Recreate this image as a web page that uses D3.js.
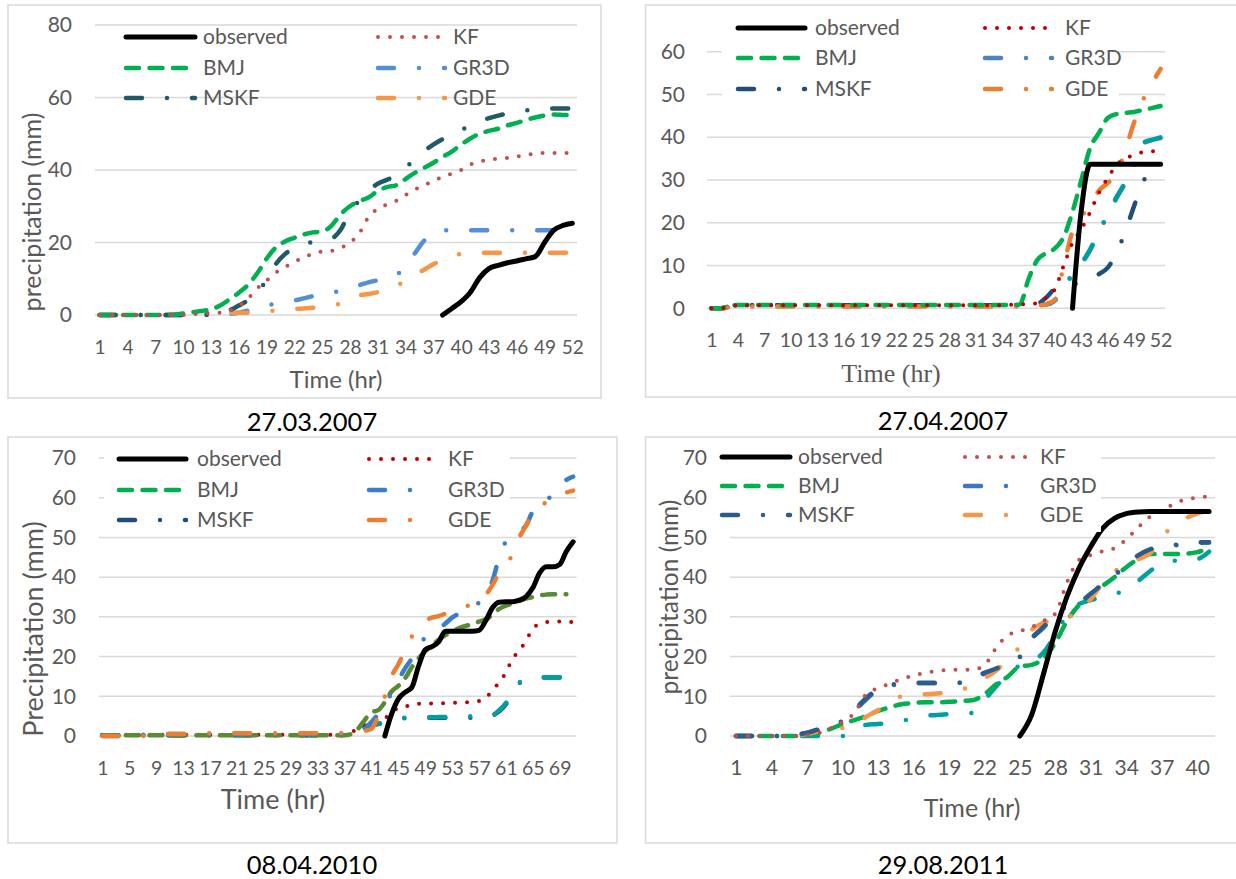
<!DOCTYPE html>
<html>
<head>
<meta charset="utf-8">
<script src="https://cdn.jsdelivr.net/npm/d3@7"></script>
<style>
  body { margin: 0; background: #fff; }
</style>
</head>
<body>
<svg id="chart" width="1236" height="879"></svg>
<script>
// ---- data: cumulative precipitation (mm) per hour ----
const SERIES_NAMES = ["observed", "KF", "BMJ", "GR3D", "MSKF", "GDE"];

// 27.03.2007 (52 h)
const P1_XTICKS = [1, 4, 7, 10, 13, 16, 19, 22, 25, 28, 31, 34, 37, 40, 43, 46, 49, 52];
const P1_YTICKS = [0, 20, 40, 60, 80];
const P1_OBSERVED = [
  null, null, null, null, null, null, null, null, null, null,
  null, null, null, null, null, null, null, null, null, null,
  null, null, null, null, null, null, null, null, null, null,
  null, null, null, null, null, null, null, 0, 1.8, 3.7,
  6.3, 10.3, 12.8, 13.7, 14.4, 14.9, 15.5, 16.1, 20.0, 23.4,
  24.7, 25.3
];
const P1_KF = [
  0, 0, 0, 0, 0, 0, 0, 0, 0, 0,
  0.2, 0.4, 0.5, 0.6, 1.2, 2.5, 4.5, 7.3, 9.5, 11.7,
  13.2, 14.7, 15.8, 16.9, 17.5, 17.7, 18.5, 20.0, 22.5, 27.0,
  29.3, 30.5, 31.5, 33.1, 34.6, 35.8, 36.9, 38.1, 39.0, 40.0,
  41.5, 42.3, 42.9, 43.1, 43.3, 43.7, 44.2, 44.5, 44.7, 44.7,
  44.7, 44.7
];
const P1_BMJ = [
  0, 0, 0, 0, 0, 0, 0, 0, 0.1, 0.4,
  0.8, 1.1, 1.6, 2.6, 4.3, 6.1, 8.3, 11.5, 15.5, 18.6,
  20.3, 21.3, 22.2, 22.8, 23.0, 24.6, 27.8, 30.0, 31.4, 32.4,
  34.2, 35.3, 35.8, 37.5, 39.2, 40.6, 42.0, 43.6, 45.1, 47.0,
  48.7, 50.0, 50.8, 51.4, 52.3, 53.0, 53.8, 54.5, 55.0, 55.3,
  55.2, 55.1
];
const P1_GR3D = [
  0, 0, 0, 0, 0, 0, 0, 0, 0, 0,
  0, 0, 0, 0, 0.3, 0.6, 1.2, 1.9, 2.6, 3.1,
  3.6, 4.0, 4.6, 5.2, 5.6, 6.1, 6.7, 7.5, 8.2, 9.0,
  9.6, 10.2, 11.0, 13.5, 17.0, 20.5, 22.5, 23.3, 23.4, 23.4,
  23.4, 23.4, 23.4, 23.4, 23.4, 23.4, 23.4, 23.4, 23.4, 23.4,
  23.4, 23.4
];
const P1_MSKF = [
  0, 0, 0, 0, 0, 0, 0, 0, 0, 0,
  0, 0, 0.2, 0.6, 1.3, 2.6, 4.1, 6.5, 9.5, 14.0,
  16.8, 18.5, 19.5, 20.2, 20.7, 21.1, 23.5, 28.5, 31.5, 34.3,
  36.2, 37.3, 38.5, 40.6, 43.0, 45.2, 47.0, 48.5, 49.8, 51.0,
  52.4, 53.5, 54.3, 55.0, 55.6, 56.1, 56.4, 56.8, 57.0, 57.0,
  57.0, 57.0
];
const P1_GDE = [
  0, 0, 0, 0, 0, 0, 0, 0, 0.1, 0.3,
  0.5, 0.5, 0.6, 0.6, 0.6, 0.6, 0.6, 0.6, 1.0, 1.3,
  1.5, 1.7, 1.8, 2.0, 2.2, 2.6, 3.2, 4.5, 5.4, 5.8,
  6.3, 7.0, 8.0, 9.5, 11.0, 12.5, 14.0, 15.2, 16.2, 16.9,
  17.2, 17.2, 17.2, 17.2, 17.2, 17.2, 17.2, 17.2, 17.2, 17.2,
  17.2, 17.2
];

// 27.04.2007 (52 h)
const P2_XTICKS = [1, 4, 7, 10, 13, 16, 19, 22, 25, 28, 31, 34, 37, 40, 43, 46, 49, 52];
const P2_YTICKS = [0, 10, 20, 30, 40, 50, 60];
const P2_OBSERVED = [
  null, null, null, null, null, null, null, null, null, null,
  null, null, null, null, null, null, null, null, null, null,
  null, null, null, null, null, null, null, null, null, null,
  null, null, null, null, null, null, null, null, null, null,
  null, 0, 23.0, 33.7, 33.7, 33.7, 33.7, 33.7, 33.7, 33.7,
  33.7, 33.7
];
const P2_KF = [
  0, 0, 0.3, 0.7, 0.7, 0.7, 0.7, 0.7, 0.7, 0.7,
  0.7, 0.7, 0.7, 0.7, 0.7, 0.7, 0.7, 0.7, 0.7, 0.7,
  0.7, 0.7, 0.7, 0.7, 0.7, 0.7, 0.7, 0.7, 0.7, 0.7,
  0.7, 0.7, 0.7, 0.7, 0.8, 0.9, 1.0, 1.2, 2.5, 4.5,
  10.0, 15.3, 18.5, 22.5, 27.0, 30.5, 33.5, 35.0, 35.9, 36.5,
  36.7, 36.8
];
const P2_BMJ = [
  0, 0, 0.4, 0.8, 0.8, 0.8, 0.8, 0.8, 0.8, 0.8,
  0.8, 0.8, 0.8, 0.8, 0.8, 0.8, 0.8, 0.8, 0.8, 0.8,
  0.8, 0.8, 0.8, 0.8, 0.8, 0.8, 0.8, 0.8, 0.8, 0.8,
  0.8, 0.8, 0.8, 0.8, 0.8, 0.9, 6.8, 11.3, 12.9, 14.0,
  16.7, 22.6, 30.0, 37.5, 41.0, 44.5, 45.4, 45.7, 45.9, 46.4,
  46.8, 47.3
];
const P2_GR3D = [
  0, 0, 0.4, 0.7, 0.7, 0.7, 0.7, 0.7, 0.7, 0.7,
  0.7, 0.7, 0.7, 0.7, 0.7, 0.7, 0.7, 0.7, 0.7, 0.7,
  0.7, 0.7, 0.7, 0.7, 0.7, 0.7, 0.7, 0.7, 0.7, 0.7,
  0.7, 0.7, 0.7, 0.7, 0.7, 0.7, 0.7, 0.8, 0.9, 1.8,
  4.8, 7.8, 10.3, 13.6, 17.8, 21.8, 25.8, 29.3, 33.3, 38.5,
  39.3, 39.8
];
const P2_MSKF = [
  0, 0, 0.3, 0.7, 0.7, 0.7, 0.7, 0.7, 0.7, 0.7,
  0.7, 0.7, 0.7, 0.7, 0.7, 0.7, 0.7, 0.7, 0.7, 0.7,
  0.7, 0.7, 0.7, 0.7, 0.7, 0.7, 0.7, 0.7, 0.7, 0.7,
  0.7, 0.7, 0.7, 0.7, 0.7, 0.7, 0.7, 1.0, 2.5, 4.5,
  5.0, 5.5, 6.3, 7.2, 8.0, 9.5, 13.0, 18.0, 24.0, 29.5,
  32.5, 33.7
];
const P2_GDE = [
  0, 0, 0.2, 0.4, 0.4, 0.4, 0.4, 0.4, 0.4, 0.4,
  0.4, 0.4, 0.4, 0.4, 0.4, 0.4, 0.4, 0.4, 0.4, 0.4,
  0.4, 0.4, 0.4, 0.4, 0.4, 0.4, 0.4, 0.4, 0.4, 0.4,
  0.4, 0.4, 0.4, 0.4, 0.4, 0.4, 0.4, 0.6, 1.0, 2.0,
  10.0, 18.0, 21.5, 24.0, 27.5, 29.3, 31.5, 37.0, 43.5, 48.7,
  52.5, 56.0
];
const P2_EXTRA = [
  0, 0, 0.4, 0.7, 0.7, 0.7, 0.7, 0.7, 0.7, 0.7,
  0.7, 0.7, 0.7, 0.7, 0.7, 0.7, 0.7, 0.7, 0.7, 0.7,
  0.7, 0.7, 0.7, 0.7, 0.7, 0.7, 0.7, 0.7, 0.7, 0.7,
  0.7, 0.7, 0.7, 0.7, 0.7, 0.7, 0.7, 0.8, 0.9, 2.0,
  5.0, 8.0, 10.5, 13.8, 18.0, 22.0, 26.0, 29.5, 33.5, 38.7,
  39.4, 40.0
];

// 08.04.2010 (71 h)
const P3_XTICKS = [1, 5, 9, 13, 17, 21, 25, 29, 33, 37, 41, 45, 49, 53, 57, 61, 65, 69];
const P3_YTICKS = [0, 10, 20, 30, 40, 50, 60, 70];
const P3_OBSERVED = [
  null, null, null, null, null, null, null, null, null, null,
  null, null, null, null, null, null, null, null, null, null,
  null, null, null, null, null, null, null, null, null, null,
  null, null, null, null, null, null, null, null, null, null,
  null, null, 0, 5.5, 9.3, 11.0, 12.2, 17.5, 21.7, 22.5,
  23.7, 26.4, 26.4, 26.4, 26.4, 26.4, 26.6, 29.0, 32.3, 33.7,
  33.8, 33.8, 34.2, 35.1, 37.3, 41.0, 42.6, 42.6, 43.2, 46.5,
  48.9
];
const P3_KF = [
  0.3, 0.3, 0.3, 0.3, 0.3, 0.3, 0.3, 0.3, 0.3, 0.3,
  0.3, 0.3, 0.3, 0.3, 0.3, 0.3, 0.3, 0.3, 0.3, 0.3,
  0.3, 0.3, 0.3, 0.3, 0.3, 0.3, 0.3, 0.3, 0.3, 0.3,
  0.3, 0.3, 0.3, 0.3, 0.3, 0.3, 0.5, 1.0, 1.8, 2.7,
  3.2, 3.6, 4.4, 6.0, 7.0, 7.4, 7.9, 8.1, 8.1, 8.2,
  8.2, 8.3, 8.4, 8.4, 8.5, 8.6, 8.8, 9.6, 11.5, 13.5,
  16.0, 19.5, 21.5, 24.0, 27.0, 28.3, 28.7, 28.8, 28.8, 28.7,
  28.7
];
const P3_BMJ = [
  0.2, 0.2, 0.2, 0.2, 0.2, 0.2, 0.2, 0.2, 0.2, 0.2,
  0.2, 0.2, 0.2, 0.2, 0.2, 0.2, 0.2, 0.2, 0.2, 0.2,
  0.2, 0.2, 0.2, 0.2, 0.2, 0.2, 0.2, 0.2, 0.2, 0.2,
  0.2, 0.2, 0.2, 0.2, 0.2, 0.2, 0.2, 0.5, 1.8, 4.0,
  6.0, 6.5, 8.5, 11.2, 12.6, 14.5, 17.3, 19.5, 21.3, 22.8,
  24.2, 25.4, 26.3, 27.1, 27.7, 28.2, 28.8, 29.4, 30.5, 32.0,
  32.8, 33.4, 34.0, 34.6, 35.0, 35.4, 35.6, 35.7, 35.7, 35.7,
  null
];
const P3_GR3D = [
  0, 0, 0, 0, 0, 0, 0.3, 0.5, 0.5, 0.5,
  0.5, 0.5, 0.5, 0.5, 0.5, 0.5, 0.5, 0.5, 0.5, 0.5,
  0.5, 0.5, 0.5, 0.5, 0.5, 0.5, 0.5, 0.5, 0.5, 0.5,
  0.5, 0.5, 0.5, 0.5, 0.5, 0.5, 0.5, 0.6, 0.9, 1.8,
  3.5, 5.5, 8.0, 10.8, 14.0, 17.0, 19.5, 22.5, 24.8, 26.0,
  27.0, 28.3, 29.8, 30.8, 31.8, 32.6, 33.6, 35.5, 39.0, 45.0,
  49.0, 50.5, 51.5, 53.0, 56.5, 57.8, 58.8, 61.5, 63.0, 64.5,
  65.3
];
const P3_MSKF = [
  0.2, 0.2, 0.2, 0.2, 0.2, 0.2, 0.2, 0.2, 0.2, 0.2,
  0.2, 0.2, 0.2, 0.2, 0.2, 0.2, 0.2, 0.2, 0.2, 0.2,
  0.2, 0.2, 0.2, 0.2, 0.2, 0.2, 0.2, 0.2, 0.2, 0.2,
  0.2, 0.2, 0.2, 0.2, 0.2, 0.2, 0.2, 0.4, 1.3, 2.3,
  2.7, 3.0, 3.4, 3.8, 4.2, 4.5, 4.6, 4.6, 4.6, 4.6,
  4.6, 4.6, 4.6, 4.6, 4.6, 4.6, 4.6, 4.6, 5.1, 6.2,
  8.0, 11.2, 13.3, 14.3, 14.6, 14.7, 14.7, 14.7, 14.7, 14.7,
  null
];
const P3_GDE = [
  0, 0, 0, 0, 0, 0, 0, 0, 0.3, 0.5,
  0.5, 0.5, 0.5, 0.5, 0.5, 0.5, 0.7, 0.7, 0.7, 0.7,
  0.7, 0.7, 0.7, 0.7, 0.7, 0.7, 0.7, 0.7, 0.7, 0.7,
  0.7, 0.7, 0.7, 0.7, 0.7, 0.7, 0.8, 0.8, 1.0, 1.3,
  1.8, 5.0, 10.0, 15.0, 18.0, 21.5, 25.0, 27.5, 29.0, 29.8,
  30.2, 30.8, 31.3, 31.7, 32.5, 33.3, 34.0, 35.5, 38.0, 41.0,
  42.6, 46.0, 50.0, 53.0, 56.0, 57.9, 58.8, 59.5, 60.4, 61.3,
  61.8
];
const P3_EXTRA = [
  0.2, 0.2, 0.2, 0.2, 0.2, 0.2, 0.2, 0.2, 0.2, 0.2,
  0.2, 0.2, 0.2, 0.2, 0.2, 0.2, 0.2, 0.2, 0.2, 0.2,
  0.2, 0.2, 0.2, 0.2, 0.2, 0.2, 0.2, 0.2, 0.2, 0.2,
  0.2, 0.2, 0.2, 0.2, 0.2, 0.2, 0.2, 0.5, 1.5, 2.5,
  2.8, 3.1, 3.5, 3.9, 4.3, 4.6, 4.7, 4.7, 4.7, 4.7,
  4.8, 4.8, 4.8, 4.9, 4.9, 5.0, 5.1, 5.2, 5.3, 6.5,
  8.3, 11.5, 13.5, 14.5, 14.8, 14.8, 14.8, 14.8, 14.8, 14.8,
  null
];

// 29.08.2011 (41 h)
const P4_XTICKS = [1, 4, 7, 10, 13, 16, 19, 22, 25, 28, 31, 34, 37, 40];
const P4_YTICKS = [0, 10, 20, 30, 40, 50, 60, 70];
const P4_OBSERVED = [
  null, null, null, null, null, null, null, null, null, null,
  null, null, null, null, null, null, null, null, null, null,
  null, null, null, null, 0, 5.3, 15.6, 26.4, 35.2, 42.2,
  47.7, 52.3, 54.8, 56.0, 56.4, 56.5, 56.5, 56.5, 56.5, 56.5,
  56.5
];
const P4_KF = [
  0, 0, 0, 0, 0, 0, 0.2, 0.8, 1.9, 3.5,
  5.8, 10.5, 12.0, 13.2, 14.3, 15.2, 15.9, 16.4, 16.6, 16.7,
  16.7, 17.8, 22.2, 25.4, 26.4, 27.4, 29.0, 30.8, 38.8, 44.3,
  45.6, 46.5, 47.3, 49.5, 52.5, 55.2, 56.7, 58.4, 59.6, 60.0,
  60.4
];
const P4_BMJ = [
  0, 0, 0, 0, 0, 0, 0.2, 0.8, 1.8, 3.0,
  4.0, 5.0, 6.3, 7.2, 8.0, 8.3, 8.5, 8.5, 8.6, 8.8,
  9.0, 10.5, 13.0, 15.0, 17.5, 17.9, 19.5, 23.5, 29.0, 33.0,
  35.8, 37.8, 40.0, 42.5, 44.5, 45.8, 45.8, 45.8, 45.9, 46.3,
  47.3
];
const P4_GR3D = [
  0, 0, 0, 0, 0, 0.3, 0.8, 1.6, 2.5, 3.6,
  6.2, 9.2, 11.5, 12.6, 13.1, 13.3, 13.3, 13.3, 13.3, 13.4,
  14.4, 15.7, 16.8, 18.1, 19.8, 24.4, 27.3, 30.6, 32.6, 33.4,
  35.6, 38.1, 40.3, 43.1, 45.3, 46.8, 47.4, 47.9, 48.3, 48.6,
  48.7
];
const P4_MSKF = [
  0, 0, 0, 0, 0, 0.3, 0.8, 1.7, 2.6, 3.8,
  6.5, 9.5, 11.8, 12.8, 13.3, 13.4, 13.4, 13.4, 13.4, 13.4,
  14.5, 15.9, 17.0, 18.3, 20.0, 24.6, 27.5, 30.8, 32.8, 33.6,
  35.8, 38.3, 40.5, 43.3, 45.5, 47.0, 47.6, 48.1, 48.5, 48.8,
  48.8
];
const P4_GDE = [
  0, 0, 0, 0, 0, 0.2, 0.5, 1.2, 1.6, 2.0,
  2.8, 4.8, 6.5, 8.2, 10.0, 10.4, 10.5, 10.7, 11.0, 11.6,
  12.8, 14.5, 16.5, 19.5, 22.5, 26.7, 28.5, 29.3, 30.0, 31.0,
  34.5, 38.5, 41.5, 42.5, 44.5, 46.0, 50.0, 53.0, 54.8, 56.0,
  56.8
];
const P4_EXTRA = [
  0, 0, 0, 0, 0, 0, 0, 0, 0, 0,
  1.5, 2.8, 3.0, 3.3, 3.8, 4.5, 5.1, 5.3, 5.5, 5.6,
  5.8, 9.0, 12.5, 15.5, 17.8, 18.8, 21.0, 25.5, 30.5, 33.2,
  34.2, 35.0, 35.8, 36.7, 39.0, 41.5, 43.5, 44.1, 44.1, 44.5,
  46.4
];

// ---- styling ----
const FONT = "Lato, 'Open Sans', sans-serif";
const GREY = "#595959";
const GRID = "#d9d9d9";

const LINE_STYLES = {
  solid:   { w: 5,   dash: null },
  dot:     { w: 4,   dash: "0 12" },
  dash:    { w: 4.5, dash: "13 10.5" },
  dashdot: { w: 4.5, dash: "16 25 0 25" },
};
const KINDS = { observed: "solid", KF: "dot", BMJ: "dash", GR3D: "dashdot", MSKF: "dashdot", GDE: "dashdot", extra: "dashdot" };

const svg = d3.select("#chart");

function styleLine(sel, color, kind) {
  const st = LINE_STYLES[kind];
  sel.attr("fill", "none")
    .attr("stroke", color)
    .attr("stroke-width", st.w)
    .attr("stroke-linecap", "round")
    .attr("stroke-linejoin", "round")
    .attr("stroke-dasharray", st.dash);
}

function drawPanel(p) {
  const g = svg.append("g");
  const n = p.series[0].values.length;
  const cats = d3.range(1, n + 1);

  // chart frame
  g.append("rect")
    .attr("x", p.frame[0]).attr("y", p.frame[1])
    .attr("width", p.frame[2]).attr("height", p.frame[3])
    .attr("fill", "#fff").attr("stroke", GRID).attr("stroke-width", 1.5);

  const x = d3.scalePoint().domain(cats).range([p.x0, p.x1]).padding(0.5);
  const y = d3.scaleLinear().domain([0, p.yMax]).range([p.yBot, p.yTop]);

  // gridlines
  g.append("g")
    .selectAll("line")
    .data(p.yTicks)
    .join("line")
    .attr("x1", p.x0).attr("x2", p.x1)
    .attr("y1", (d) => y(d)).attr("y2", (d) => y(d))
    .attr("stroke", GRID).attr("stroke-width", 1.5);

  // y tick labels
  g.append("g")
    .attr("transform", `translate(${p.yLabelX},0)`)
    .call(d3.axisLeft(y).tickValues(p.yTicks).tickSize(0).tickPadding(0))
    .call((a) => a.select(".domain").remove())
    .selectAll("text")
    .attr("font-family", FONT).attr("font-size", 21).attr("fill", GREY);

  // x tick labels
  g.append("g")
    .attr("transform", `translate(0,${p.xLabelY})`)
    .call(d3.axisBottom(x).tickValues(p.xTicks).tickSize(0).tickPadding(0))
    .call((a) => a.select(".domain").remove())
    .selectAll("text")
    .attr("y", 0).attr("dy", "0.35em")
    .attr("font-family", FONT).attr("font-size", p.xFont).attr("fill", GREY);

  // series
  const line = d3.line()
    .defined((d) => d.v != null)
    .x((d) => x(d.c))
    .y((d) => y(d.v))
    .curve(d3.curveMonotoneX);

  p.series.forEach((s) => {
    const pts = cats.map((c, i) => ({ c, v: s.values[i] }));
    g.append("path").attr("d", line(pts)).call(styleLine, s.color, KINDS[s.name]);
  });

  // legend
  const lg = g.append("g");
  if (p.legendBg) {
    lg.append("rect")
      .attr("x", p.legendBg[0]).attr("y", p.legendBg[1])
      .attr("width", p.legendBg[2]).attr("height", p.legendBg[3])
      .attr("fill", "#fff");
  }
  SERIES_NAMES.forEach((name, i) => {
    const s = p.series.find((d) => d.name === name);
    const col = i % 2 === 0 ? p.legCol1 : p.legCol2;
    const ly = p.legRows[Math.floor(i / 2)];
    lg.append("line")
      .attr("x1", col[0]).attr("x2", col[1]).attr("y1", ly).attr("y2", ly)
      .call(styleLine, s.legendColor || s.color, KINDS[name]);
    lg.append("text")
      .attr("x", col[2]).attr("y", ly).attr("dy", "0.35em")
      .attr("font-family", FONT).attr("font-size", 21).attr("fill", GREY)
      .text(name);
  });

  // axis titles
  g.append("text")
    .attr("x", p.xTitle[0]).attr("y", p.xTitle[1]).attr("dy", "0.35em")
    .attr("text-anchor", "middle")
    .attr("font-family", p.xTitleFont || FONT).attr("font-size", p.xTitle[2])
    .attr("fill", GREY)
    .text("Time (hr)");
  if (p.yTitle) {
    g.append("text")
      .attr("transform", `translate(${p.yTitle[0]},${p.yTitle[1]}) rotate(-90)`)
      .attr("dy", "0.35em")
      .attr("text-anchor", "middle")
      .attr("font-family", FONT).attr("font-size", p.yTitle[2])
      .attr("fill", GREY)
      .text(p.yTitle[3]);
  }

  // date caption under the chart
  svg.append("text")
    .attr("x", p.caption[0]).attr("y", p.caption[1]).attr("dy", "0.35em")
    .attr("text-anchor", "middle")
    .attr("font-family", FONT).attr("font-size", 25.5).attr("fill", "#000")
    .text(p.caption[2]);
}

drawPanel({
  frame: [8, 5, 593, 393],
  x0: 95, x1: 577, yTop: 25, yBot: 315, yMax: 80,
  yTicks: P1_YTICKS, xTicks: P1_XTICKS,
  yLabelX: 72, xLabelY: 347, xFont: 19,
  xTitle: [336, 380, 24],
  yTitle: [32, 212, 25, "precipitation (mm)"],
  caption: [312, 422, "27.03.2007"],
  legRows: [37, 68, 98], legCol1: [126, 195, 203], legCol2: [378, 445, 453],
  legendBg: null,
  series: [
    { name: "GR3D", values: P1_GR3D, color: "#558ed5" },
    { name: "GDE", values: P1_GDE, color: "#f79646" },
    { name: "MSKF", values: P1_MSKF, color: "#215968" },
    { name: "BMJ", values: P1_BMJ, color: "#00b050" },
    { name: "KF", values: P1_KF, color: "#c0504d" },
    { name: "observed", values: P1_OBSERVED, color: "#000" },
  ],
});

drawPanel({
  frame: [645.5, 5, 600, 392],
  x0: 707, x1: 1165, yTop: 51.7, yBot: 308.3, yMax: 60,
  yTicks: P2_YTICKS, xTicks: P2_XTICKS,
  yLabelX: 685, xLabelY: 340, xFont: 19.5,
  xTitle: [891, 373, 26], xTitleFont: "'Liberation Serif', 'Times New Roman', serif",
  yTitle: null,
  caption: [943, 421, "27.04.2007"],
  legRows: [28, 58, 89], legCol1: [738, 805, 815], legCol2: [985, 1052, 1065],
  legendBg: [722, 10, 397, 95],
  series: [
    { name: "GR3D", values: P2_GR3D, color: "#4f81bd" },
    { name: "extra", values: P2_EXTRA, color: "#009e9e" },
    { name: "MSKF", values: P2_MSKF, color: "#1f4e79" },
    { name: "GDE", values: P2_GDE, color: "#ed7d31" },
    { name: "BMJ", values: P2_BMJ, color: "#00b050" },
    { name: "KF", values: P2_KF, color: "#c00000" },
    { name: "observed", values: P2_OBSERVED, color: "#000" },
  ],
});

drawPanel({
  frame: [8, 437, 609, 406],
  x0: 99, x1: 576.5, yTop: 458, yBot: 736, yMax: 70,
  yTicks: P3_YTICKS, xTicks: P3_XTICKS,
  yLabelX: 76, xLabelY: 768, xFont: 19.5,
  xTitle: [273, 800, 27],
  yTitle: [34, 629, 27, "Precipitation (mm)"],
  caption: [312, 865, "08.04.2010"],
  legRows: [459, 490, 520], legCol1: [119, 186, 197], legCol2: [369, 435, 448],
  legendBg: [104, 443, 406, 92],
  series: [
    { name: "MSKF", values: P3_MSKF, color: "#1f4e79" },
    { name: "extra", values: P3_EXTRA, color: "#00a0a0" },
    { name: "KF", values: P3_KF, color: "#c00000" },
    { name: "BMJ", values: P3_BMJ, color: "#5a8a34", legendColor: "#00b050" },
    { name: "GR3D", values: P3_GR3D, color: "#3a7dc8" },
    { name: "GDE", values: P3_GDE, color: "#ed7d31" },
    { name: "observed", values: P3_OBSERVED, color: "#000" },
  ],
});

drawPanel({
  frame: [645.5, 437, 600, 406],
  x0: 730, x1: 1215, yTop: 458, yBot: 736, yMax: 70,
  yTicks: P4_YTICKS, xTicks: P4_XTICKS,
  yLabelX: 707, xLabelY: 768, xFont: 21,
  xTitle: [972, 808, 25],
  yTitle: [669, 597, 24.5, "precipitation (mm)"],
  caption: [943, 865, "29.08.2011"],
  legRows: [457, 486, 515], legCol1: [722, 790, 798], legCol2: [965, 1029, 1040],
  legendBg: [712, 442, 389, 90],
  series: [
    { name: "GR3D", values: P4_GR3D, color: "#4472c4" },
    { name: "extra", values: P4_EXTRA, color: "#00a0a0" },
    { name: "BMJ", values: P4_BMJ, color: "#00b050" },
    { name: "GDE", values: P4_GDE, color: "#f79646" },
    { name: "MSKF", values: P4_MSKF, color: "#2b5c8a" },
    { name: "KF", values: P4_KF, color: "#c0504d" },
    { name: "observed", values: P4_OBSERVED, color: "#000" },
  ],
});
</script>
</body>
</html>
